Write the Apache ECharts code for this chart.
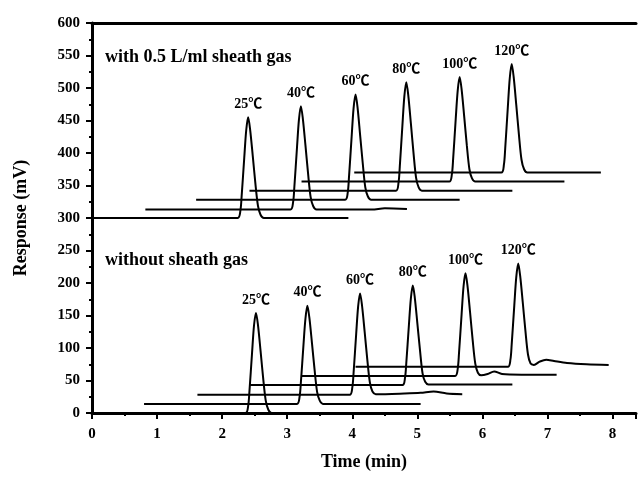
<!DOCTYPE html>
<html>
<head>
<meta charset="utf-8">
<script src="https://cdn.jsdelivr.net/npm/echarts@6/dist/echarts.min.js"></script>
<style>
  html, body { margin: 0; padding: 0; background: #fff; }
  #chart { width: 639px; height: 477px; }
</style>
</head>
<body>
<div id="chart"></div>
<script>
// temperature labels
var temps = ['25℃', '40℃', '60℃', '80℃', '100℃', '120℃'];

// peak apex positions (time, response), used for the labels
var topApexX = [2.40, 3.21, 4.05, 4.83, 5.65, 6.45];
var topApexY = [455, 472, 490, 509, 517, 537];
var botApexX = [2.52, 3.31, 4.12, 4.93, 5.74, 6.55];
var botApexY = [154, 165, 184, 196, 215, 230];

// with 0.5 L/ml sheath gas
var top25 = [[0,300],[2.24,300],[2.28,311],[2.30,334],[2.34,393],[2.37,435],[2.40,455],[2.43,436],[2.47,396],[2.51,354],[2.55,319],[2.59,305],[2.64,300],[3.94,300]];
var top40 = [[0.82,313],[3.05,313],[3.09,324],[3.11,348],[3.15,408],[3.18,451],[3.21,472],[3.24,453],[3.28,412],[3.32,369],[3.36,332],[3.40,318],[3.45,313],[4.3,313],[4.5,315],[4.84,314]];
var top60 = [[1.6,328],[3.89,328],[3.93,339],[3.95,364],[3.99,425],[4.02,469],[4.05,490],[4.08,471],[4.12,428],[4.16,385],[4.20,347],[4.24,333],[4.29,328],[5.65,328]];
var top80 = [[2.42,342],[4.67,342],[4.71,354],[4.73,379],[4.77,442],[4.80,487],[4.83,509],[4.86,489],[4.90,446],[4.94,401],[4.98,362],[5.02,347],[5.07,342],[6.46,342]];
var top100 = [[3.22,356],[5.49,356],[5.53,367],[5.55,391],[5.59,453],[5.62,496],[5.65,517],[5.68,498],[5.72,456],[5.76,412],[5.80,375],[5.84,361],[5.89,356],[7.26,356]];
var top120 = [[4.03,370],[6.29,370],[6.33,382],[6.35,407],[6.39,470],[6.42,515],[6.45,537],[6.48,517],[6.52,474],[6.56,429],[6.60,390],[6.64,375],[6.69,370],[7.82,370]];

// without sheath gas
var bot25 = [[0,0],[2.36,0],[2.40,11],[2.42,34],[2.46,93],[2.49,135],[2.52,154],[2.55,136],[2.59,96],[2.63,54],[2.67,19],[2.71,5],[2.76,0],[4.0,0]];
var bot40 = [[0.8,14],[3.15,14],[3.19,25],[3.21,47],[3.25,105],[3.28,145],[3.31,165],[3.34,147],[3.38,108],[3.42,67],[3.46,32],[3.50,19],[3.55,14],[5.05,14]];
var bot60 = [[1.62,28],[3.96,28],[4.00,39],[4.02,62],[4.06,122],[4.09,164],[4.12,184],[4.15,165],[4.19,125],[4.23,83],[4.27,47],[4.31,33],[4.36,29],[4.8,30],[5.05,31],[5.25,33],[5.45,30],[5.69,29]];
var bot80 = [[2.43,43],[4.77,43],[4.81,54],[4.83,77],[4.87,135],[4.90,176],[4.93,196],[4.96,178],[5.00,138],[5.04,97],[5.08,61],[5.12,48],[5.17,44],[6.46,44]];
var bot100 = [[3.22,57],[5.58,57],[5.62,68],[5.64,92],[5.68,152],[5.71,195],[5.74,215],[5.77,196],[5.81,155],[5.85,112],[5.89,76],[5.93,62],[5.98,58],[6.08,60],[6.18,64],[6.3,60],[6.6,59],[7.14,59]];
var bot120 = [[4.05,71],[6.39,71],[6.43,82],[6.45,106],[6.49,166],[6.52,209],[6.55,230],[6.58,211],[6.62,170],[6.66,127],[6.70,90],[6.74,76],[6.79,74],[6.88,79],[6.98,82],[7.1,80],[7.3,77],[7.6,75],[7.94,74]];

var traces = [top25, top40, top60, top80, top100, top120, bot25, bot40, bot60, bot80, bot100, bot120];

var serif = "'Liberation Serif', 'Times New Roman', 'Noto Sans CJK SC', serif";

var myChart = echarts.init(document.getElementById('chart'));

var series = traces.map(function (d) {
  return {
    type: 'line',
    data: d,
    showSymbol: false,
    smooth: 0.3,
    clip: false,
    lineStyle: { color: '#000', width: 2 },
    silent: true
  };
});

var labelData = [];
for (var i = 0; i < temps.length; i++) {
  labelData.push({ value: [topApexX[i], topApexY[i]], name: temps[i] });
  labelData.push({ value: [botApexX[i], botApexY[i]], name: temps[i] });
}
series.push({
  type: 'scatter',
  data: labelData,
  symbolSize: 0,
  silent: true,
  itemStyle: { opacity: 1, color: '#000' },
  label: {
    show: true,
    position: 'top',
    distance: 6,
    formatter: '{b}',
    color: '#000',
    opacity: 1,
    fontFamily: serif,
    fontWeight: 'bold',
    fontSize: 14
  }
});

var option = {
  animation: false,
  grid: { left: 92, right: 0, top: 23, bottom: 64 },
  xAxis: [
    {
      type: 'value',
      min: 0,
      max: 8.36,
      interval: 1,
      offset: 2,
      name: 'Time (min)',
      nameLocation: 'middle',
      nameGap: 38,
      nameTextStyle: { color: '#000', fontFamily: serif, fontWeight: 'bold', fontSize: 18 },
      axisLine: { lineStyle: { color: '#000', width: 3 } },
      axisTick: { length: 6, lineStyle: { width: 2 } },
      minorTick: { show: true, splitNumber: 2, length: 3, lineStyle: { color: '#000', width: 2 } },
      splitLine: { show: false },
      axisLabel: {
        color: '#000', fontFamily: serif, fontWeight: 'bold', fontSize: 15, margin: 12,
        formatter: function (v) { return Number.isInteger(v) ? String(v) : ''; }
      }
    },
    {
      type: 'value',
      position: 'top',
      min: 0,
      max: 8.36,
      axisLine: { lineStyle: { color: '#000', width: 3 } },
      axisTick: { show: false },
      axisLabel: { show: false },
      splitLine: { show: false }
    }
  ],
  yAxis: {
    type: 'value',
    min: 0,
    max: 600,
    interval: 50,
    name: 'Response (mV)',
    nameLocation: 'middle',
    nameGap: 62,
    nameTextStyle: { color: '#000', fontFamily: serif, fontWeight: 'bold', fontSize: 18 },
    axisLine: { show: true, lineStyle: { color: '#000', width: 3 } },
    axisTick: { show: true, length: 6, lineStyle: { width: 2 } },
    minorTick: { show: true, splitNumber: 2, length: 3, lineStyle: { color: '#000', width: 2 } },
    splitLine: { show: false },
    axisLabel: { color: '#000', fontFamily: serif, fontWeight: 'bold', fontSize: 15, margin: 12 }
  },
  graphic: [
    {
      type: 'text', left: 105, top: 48,
      style: { text: 'with 0.5 L/ml sheath gas', fill: '#000', font: 'bold 18px ' + serif }
    },
    {
      type: 'text', left: 105, top: 251,
      style: { text: 'without sheath gas', fill: '#000', font: 'bold 18px ' + serif }
    }
  ],
  series: series
};

myChart.setOption(option);
</script>
</body>
</html>
